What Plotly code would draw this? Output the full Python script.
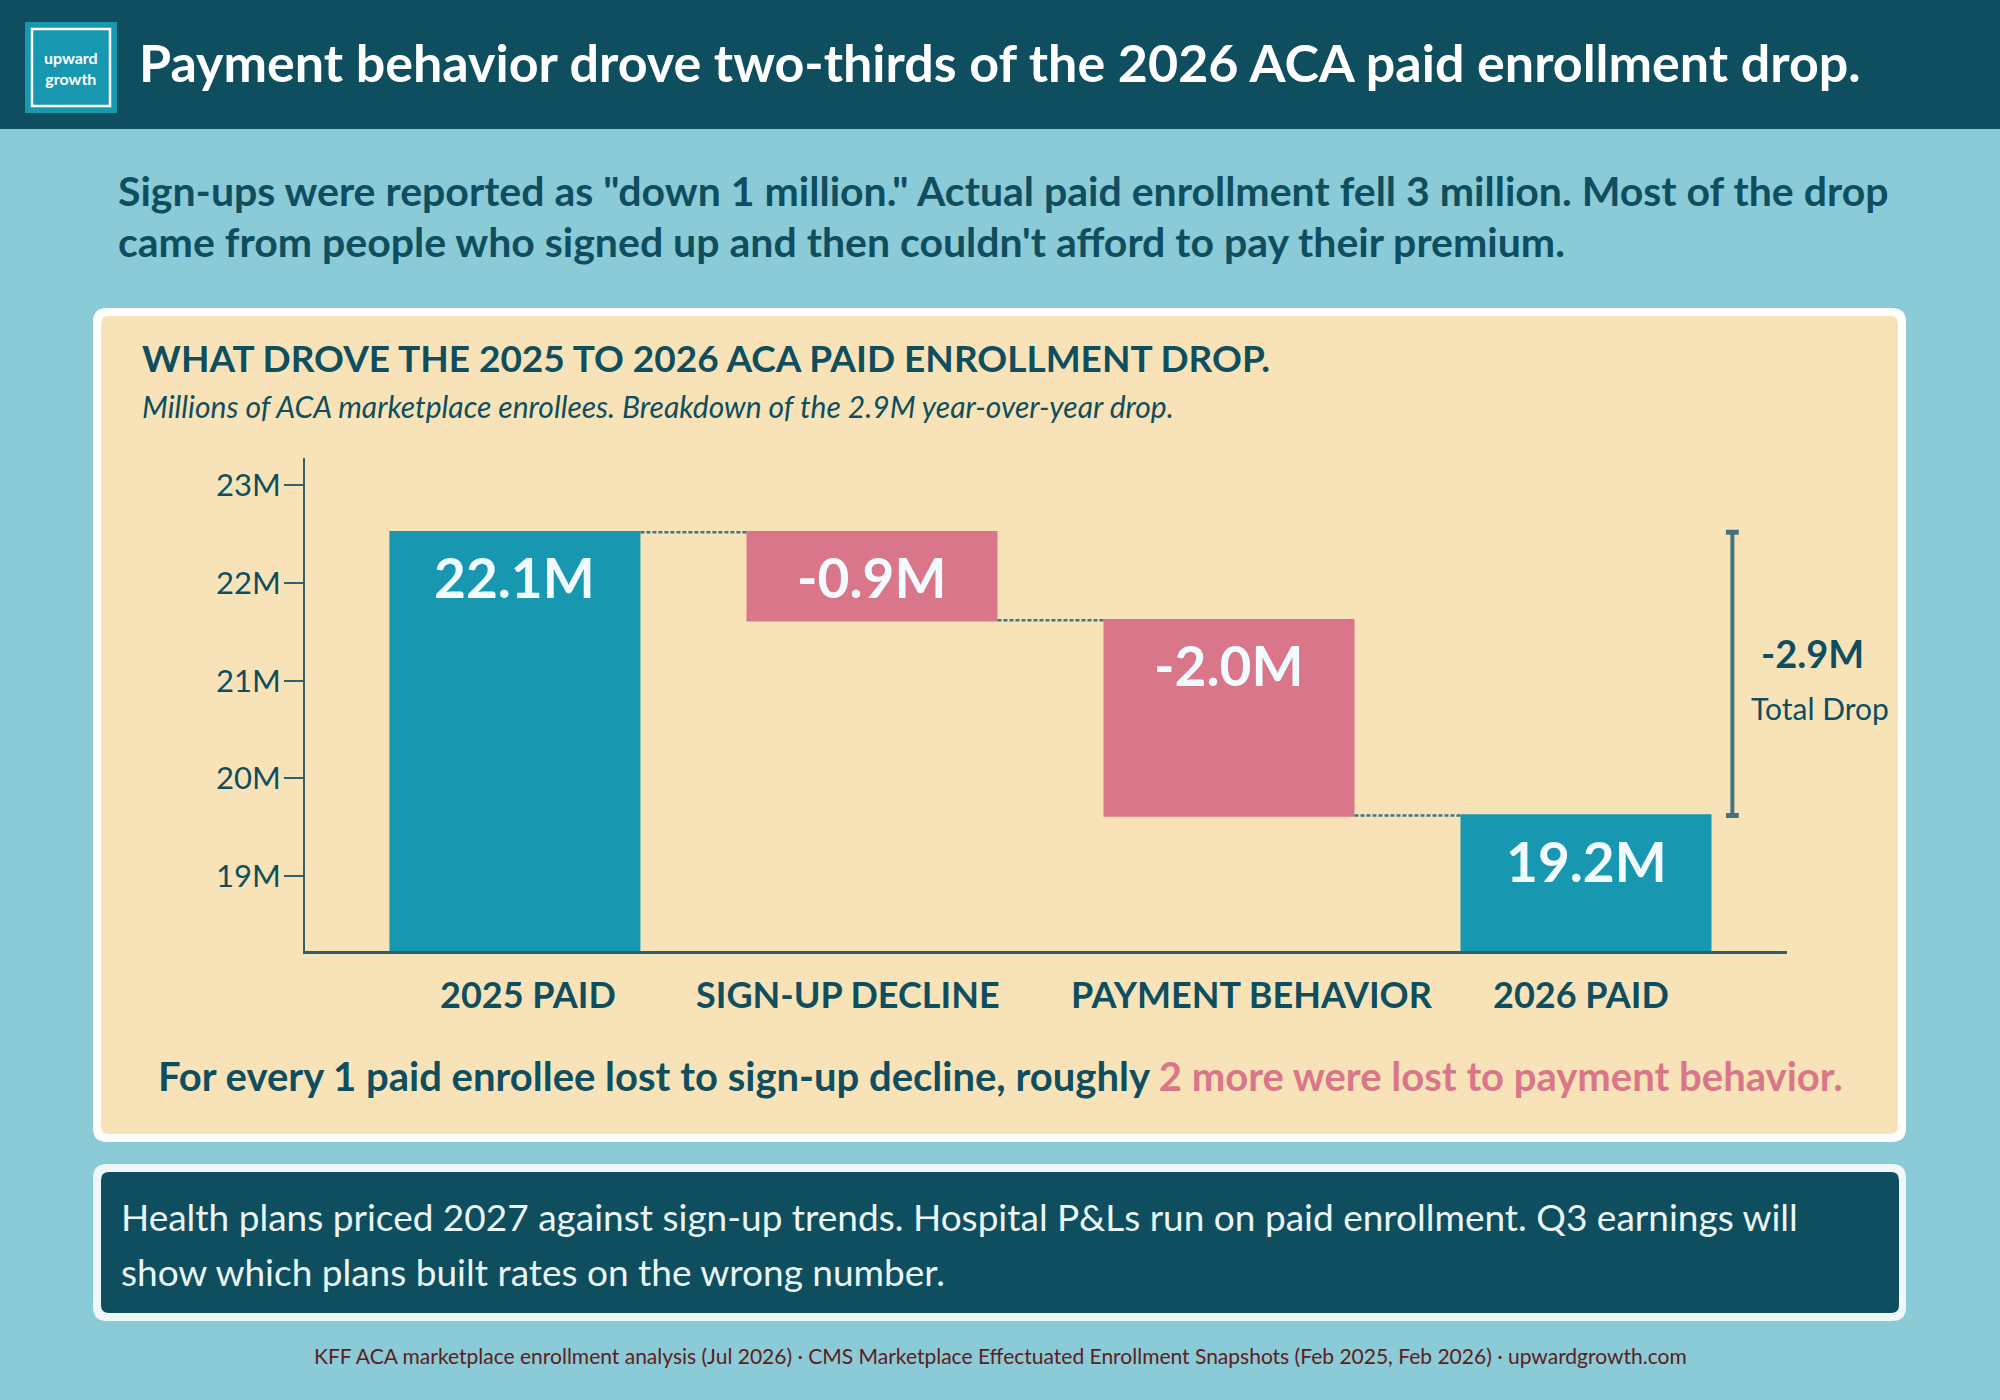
import plotly.graph_objects as go

# data
CATEGORIES = ["2025 PAID", "SIGN-UP DECLINE", "PAYMENT BEHAVIOR", "2026 PAID"]
MEASURES = ["absolute", "relative", "relative", "total"]
VALUES = [22.1, -0.9, -2.0, 19.2]
BAR_LABELS = ["22.1M", "-0.9M", "-2.0M", "19.2M"]
Y_TICK_VALUES = [19, 20, 21, 22, 23]
Y_TICK_LABELS = ["19M", "20M", "21M", "22M", "23M"]
TOTAL_DROP_LABEL = "-2.9M"

# colours
DARK = "#0e4e5e"
TEAL = "#1897b0"
PINK = "#d97689"
SKY = "#8bcad7"
CREAM = "#f8e3b8"
AXIS = "#2f6070"
BRACKET = "#44737f"
FONT = "Lato"

# page geometry (pixels)
W, H = 2000, 1400
L, R, T, B = 305, 213, 458, 449
PW = W - L - R
PH = H - T - B
AXIS_SHIFT = 0.42  # the tick labels sit a bit below the bar scale in the original
CAT_LABEL_NUDGE = [13, -24, 23, -5]  # category labels are not quite centred under the bars


def px_x(x):
    return (x - L) / PW


def px_y(y):
    return (H - B - y) / PH


def rounded(x0, y0, x1, y1, r):
    # rounded rectangle path in paper coords, input in pixels
    pts = [
        ("M", x0 + r, y0), ("L", x1 - r, y0), ("Q", x1, y0, x1, y0 + r),
        ("L", x1, y1 - r), ("Q", x1, y1, x1 - r, y1), ("L", x0 + r, y1),
        ("Q", x0, y1, x0, y1 - r), ("L", x0, y0 + r), ("Q", x0, y0, x0 + r, y0),
    ]
    path = ""
    for p in pts:
        cmd = p[0]
        nums = p[1:]
        coords = []
        for i in range(0, len(nums), 2):
            coords.append(f"{px_x(nums[i]):.5f},{px_y(nums[i + 1]):.5f}")
        path += cmd + " ".join(coords) + " "
    return path + "Z"


# running tops of the bars, for the value labels
tops = []
running = 0
for m, v in zip(MEASURES, VALUES):
    if m == "absolute":
        running = v
        tops.append(v)
    elif m == "relative":
        tops.append(max(running, running + v))
        running += v
    else:
        tops.append(running)

fig = go.Figure()

fig.add_trace(go.Waterfall(
    x=CATEGORIES,
    y=VALUES,
    measure=MEASURES,
    width=0.703,
    decreasing=dict(marker=dict(color=PINK)),
    increasing=dict(marker=dict(color=TEAL)),
    totals=dict(marker=dict(color=TEAL)),
    connector=dict(mode="between", line=dict(color="#3d7585", width=2.5, dash="4px,2px")),
    hoverinfo="skip",
    showlegend=False,
))

shapes = [
    # header band
    dict(type="rect", xref="paper", yref="paper", x0=px_x(0), x1=px_x(W), y0=px_y(0), y1=px_y(129),
         fillcolor=DARK, line_width=0, layer="below"),
    # logo
    dict(type="rect", xref="paper", yref="paper", x0=px_x(25), x1=px_x(117), y0=px_y(22), y1=px_y(113),
         fillcolor=TEAL, line_width=0, layer="below"),
    dict(type="rect", xref="paper", yref="paper", x0=px_x(32), x1=px_x(110), y0=px_y(29), y1=px_y(106),
         fillcolor="rgba(0,0,0,0)", line=dict(color="white", width=2.5), layer="below"),
    # chart card
    dict(type="path", xref="paper", yref="paper", path=rounded(93, 308, 1906, 1142, 14),
         fillcolor="white", line_width=0, layer="below"),
    dict(type="path", xref="paper", yref="paper", path=rounded(101, 316, 1898, 1134, 8),
         fillcolor=CREAM, line_width=0, layer="below"),
    # bottom note box
    dict(type="path", xref="paper", yref="paper", path=rounded(93, 1164, 1906, 1321, 14),
         fillcolor="#eef7f9", line_width=0, layer="below"),
    dict(type="path", xref="paper", yref="paper", path=rounded(101, 1172, 1899, 1313, 8),
         fillcolor=DARK, line_width=0, layer="below"),
]

# total drop bracket
bx = 3.41
shapes += [
    dict(type="line", xref="x", yref="y", x0=bx, x1=bx, y0=tops[0], y1=tops[-1],
         line=dict(color=BRACKET, width=4)),
    dict(type="line", xref="x", yref="y", x0=bx - 0.018, x1=bx + 0.018, y0=tops[0], y1=tops[0],
         line=dict(color=BRACKET, width=5)),
    dict(type="line", xref="x", yref="y", x0=bx - 0.018, x1=bx + 0.018, y0=tops[-1], y1=tops[-1],
         line=dict(color=BRACKET, width=5)),
]


def text(x, y, s, size, color=DARK, weight="normal", anchor="left", style="normal"):
    return dict(xref="paper", yref="paper", x=px_x(x), y=px_y(y), text=s, showarrow=False,
                xanchor=anchor, yanchor="middle",
                font=dict(family=FONT, size=size, color=color, weight=weight, style=style))


annotations = [
    text(71, 68, "upward<br>growth", 16, "white", "bold", "center"),
    text(137, 62, "Payment behavior drove two-thirds of the 2026 ACA paid enrollment drop.", 52, "white", "bold"),
    text(116, 191, 'Sign-ups were reported as "down 1 million." Actual paid enrollment fell 3 million. Most of the drop',
         41, DARK, "bold"),
    text(116, 242, "came from people who signed up and then couldn't afford to pay their premium.", 41, DARK, "bold"),
    text(140, 357, "WHAT DROVE THE 2025 TO 2026 ACA PAID ENROLLMENT DROP.", 37, DARK, "bold"),
    text(140, 406, "Millions of ACA marketplace enrollees. Breakdown of the 2.9M year-over-year drop.", 30, DARK,
         "normal", "left", "italic"),
    text(1000, 1076, "For every 1 paid enrollee lost to sign-up decline, roughly "
         f"<span style='color:{PINK}'>2 more were lost to payment behavior.</span>", 40, DARK, "bold", "center"),
    text(119, 1216, "Health plans priced 2027 against sign-up trends. Hospital P&Ls run on paid enrollment. Q3 earnings will",
         37, "#eaf6f6"),
    text(119, 1271, "show which plans built rates on the wrong number.", 37, "#eaf6f6"),
    text(1000, 1355, "KFF ACA marketplace enrollment analysis (Jul 2026) · CMS Marketplace Effectuated Enrollment "
         "Snapshots (Feb 2025, Feb 2026) · upwardgrowth.com", 21, "#5b2020", "normal", "center"),
    text(1812, 653, TOTAL_DROP_LABEL, 38, DARK, "bold", "center"),
    text(1820, 708, "Total Drop", 30, DARK, "normal", "center"),
]

# category labels under the axis
for cat, nudge in zip(CATEGORIES, CAT_LABEL_NUDGE):
    annotations.append(dict(x=cat, y=px_y(994), xref="x", yref="paper", text=cat, showarrow=False,
                            xanchor="center", yanchor="middle", xshift=nudge,
                            font=dict(family=FONT, size=36, color=DARK, weight="bold")))

# value labels inside the bars
for cat, top, lab in zip(CATEGORIES, tops, BAR_LABELS):
    annotations.append(dict(x=cat, y=top, xref="x", yref="y", text=lab, showarrow=False,
                            yanchor="middle", yshift=-45,
                            font=dict(family=FONT, size=55, color="#f2fbff", weight="bold")))

fig.update_layout(
    width=W, height=H,
    margin=dict(l=L, r=R, t=T, b=B),
    paper_bgcolor=SKY,
    plot_bgcolor="rgba(0,0,0,0)",
    shapes=shapes,
    annotations=annotations,
    font=dict(family=FONT, color=DARK),
    xaxis=dict(
        range=[-0.588, 3.563],
        showline=True, linecolor=AXIS, linewidth=3,
        showgrid=False, zeroline=False, ticks="",
        showticklabels=False,
    ),
    yaxis=dict(
        range=[17.813, 22.86],
        tickvals=[v - AXIS_SHIFT for v in Y_TICK_VALUES],
        ticktext=Y_TICK_LABELS,
        showline=True, linecolor=AXIS, linewidth=2,
        ticks="outside", ticklen=19, tickwidth=2, tickcolor=AXIS,
        ticklabelstandoff=-3,
        showgrid=False, zeroline=False,
        tickfont=dict(family=FONT, size=31, color=DARK),
    ),
)

fig.write_html("out.html", config={"displayModeBar": False},
               post_script="document.body.style.margin='0';")
